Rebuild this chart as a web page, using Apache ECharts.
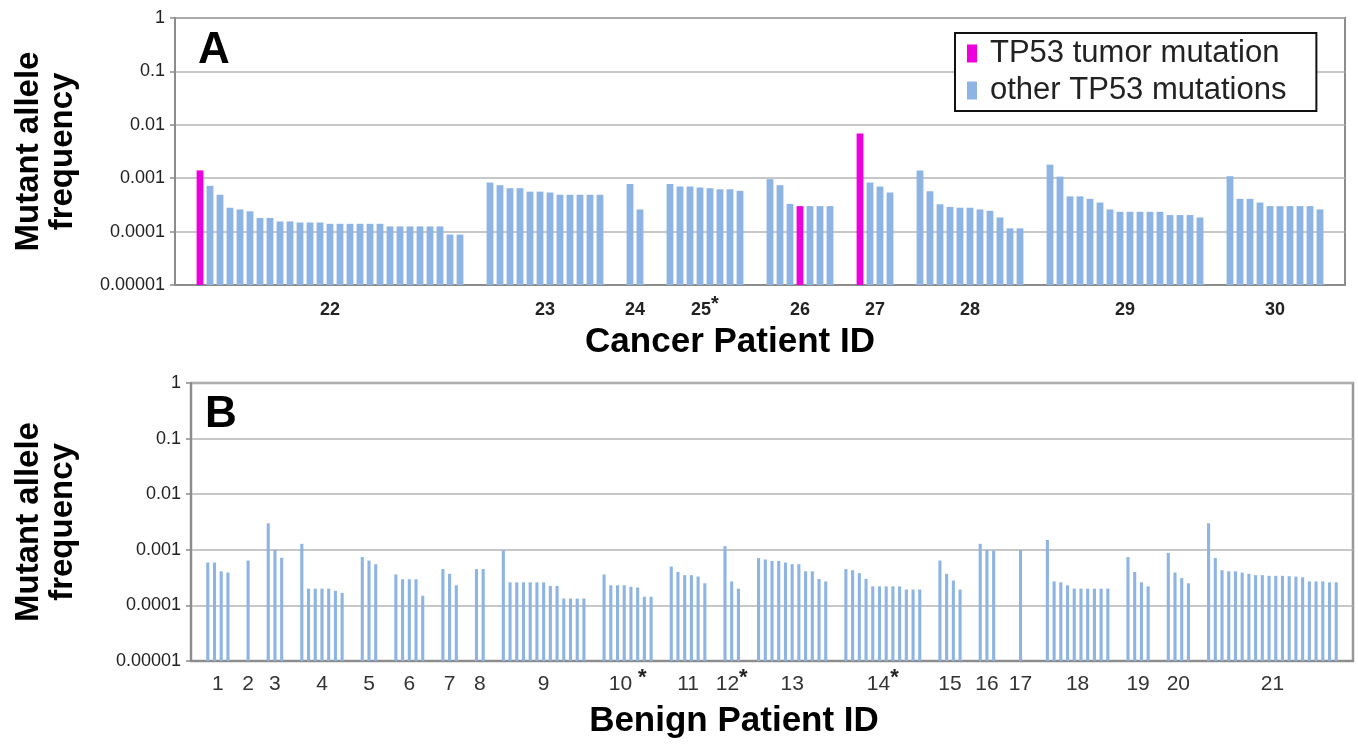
<!DOCTYPE html>
<html>
<head>
<meta charset="utf-8">
<script src="https://cdn.jsdelivr.net/npm/echarts@6/dist/echarts.min.js"></script>
<style>
  html, body { margin: 0; padding: 0; background: #fff; }
  #chart { width: 1358px; height: 745px; }
</style>
</head>
<body>
<div id="chart"></div>
<script>
// 纵轴刻度
const yTickLabels = ['0.00001', '0.0001', '0.001', '0.01', '0.1', '1'];
const Y_MIN = 0.00001;

// A: 癌症患者
const cancerIds = ['22', '23', '24', '25*', '26', '27', '28', '29', '30'];
const cancerValues = [
    [0.0014, 0.00072, 0.00049, 0.00028, 0.00026, 0.00024, 0.00018, 0.00018, 0.000155, 0.000155,
     0.000148, 0.000148, 0.000148, 0.00014, 0.00014, 0.00014, 0.00014, 0.00014, 0.00014,
     0.000125, 0.000125, 0.000125, 0.000125, 0.000125, 0.000125, 0.000088, 0.000088],
    [0.00083, 0.00074, 0.00065, 0.00065, 0.00056, 0.00056, 0.00054, 0.00049, 0.00049, 0.00049, 0.00049, 0.00049],
    [0.00078, 0.00026],
    [0.00078, 0.0007, 0.0007, 0.00067, 0.00065, 0.00062, 0.00062, 0.00058],
    [0.00096, 0.00074, 0.00033, 0.0003, 0.0003, 0.0003, 0.0003],
    [0.0069, 0.00083, 0.0007, 0.00054],
    [0.00139, 0.00057, 0.000325, 0.00029, 0.00028, 0.00028, 0.00026, 0.000245, 0.000184, 0.000115, 0.000115],
    [0.00179, 0.00107, 0.000457, 0.000457, 0.00041, 0.00035, 0.00026, 0.000235, 0.000235, 0.000235,
     0.000235, 0.000235, 0.000204, 0.000204, 0.000204, 0.000184],
    [0.00109, 0.00041, 0.00041, 0.00035, 0.0003, 0.0003, 0.0003, 0.0003, 0.0003, 0.00026]
];
// 肿瘤突变所在位置 (每组内序号, -1 为无)
const cancerTumorIndex = [0, -1, -1, -1, 3, 0, -1, -1, -1];
// 每组前面的空位数
const cancerGaps = [2, 2, 2, 2, 2, 2, 2, 2, 2];
const cancerTrailing = 2;

// B: 良性患者
const benignIds = ['1', '2', '3', '4', '5', '6', '7', '8', '9', '10 *', '11', '12*', '13', '14*',
    '15', '16', '17', '18', '19', '20', '21'];
const benignValues = [
    [0.00059, 0.00059, 0.00041, 0.00039],
    [0.00064],
    [0.003, 0.001, 0.00072],
    [0.00128, 0.0002, 0.0002, 0.0002, 0.0002, 0.000183, 0.000168],
    [0.00074, 0.00064, 0.00055],
    [0.00036, 0.000295, 0.000295, 0.000295, 0.000149],
    [0.00045, 0.00037, 0.00023],
    [0.00045, 0.00045],
    [0.00098, 0.00026, 0.00026, 0.00026, 0.00026, 0.00026, 0.00026, 0.000224, 0.000224,
     0.000133, 0.000133, 0.000133, 0.000133],
    [0.00036, 0.00023, 0.00023, 0.00023, 0.000216, 0.00021, 0.000143, 0.000143],
    [0.0005, 0.0004, 0.00035, 0.00035, 0.00033, 0.00025],
    [0.00116, 0.00027, 0.0002],
    [0.00071, 0.00067, 0.00063, 0.00063, 0.00059, 0.00055, 0.00055, 0.00041, 0.00041, 0.0003, 0.00027],
    [0.00045, 0.00043, 0.00038, 0.0003, 0.00022, 0.00022, 0.00022, 0.00022, 0.00022, 0.000193, 0.000193, 0.000193],
    [0.00064, 0.00037, 0.00028, 0.000193],
    [0.00128, 0.001, 0.00097],
    [0.001],
    [0.0015, 0.00027, 0.00026, 0.00023, 0.0002, 0.0002, 0.0002, 0.0002, 0.0002, 0.0002],
    [0.00074, 0.0004, 0.00026, 0.00022],
    [0.00088, 0.00039, 0.00031, 0.00025],
    [0.003, 0.00071, 0.00043, 0.00041, 0.00041, 0.00039, 0.00037, 0.00035, 0.00035, 0.00034,
     0.00034, 0.00034, 0.000335, 0.00033, 0.00032, 0.00027, 0.00027, 0.00027, 0.00026, 0.00026]
];
const benignGaps = [2, 2, 2, 2, 2, 2, 2, 2, 2, 2, 2, 2, 2, 2, 2, 2, 3, 3, 2, 2, 2];
const benignTrailing = 2;

const FONT = '"Liberation Sans", Arial, sans-serif';
const BLUE = '#8db4e2';
const MAGENTA = '#ee00dd';

// 把分组数据摊成一个个位置, 记录每组中心 (用于标签)
const layoutGroups = (ids, values, gaps, trailing, tumorIndex) => {
    const others = [];
    const tumors = [];
    const labelAt = {};
    let pos = 0;
    values.forEach((group, g) => {
        pos += gaps[g];
        const start = pos;
        group.forEach((v, i) => {
            if (tumorIndex && tumorIndex[g] === i) {
                tumors.push([pos, v]);
            } else {
                others.push([pos, v]);
            }
            pos++;
        });
        labelAt[(start + group.length / 2).toFixed(1)] = ids[g];
    });
    pos += trailing;
    return { others, tumors, labelAt, count: pos };
};

const A = layoutGroups(cancerIds, cancerValues, cancerGaps, cancerTrailing, cancerTumorIndex);
const B = layoutGroups(benignIds, benignValues, benignGaps, benignTrailing, null);

const starLabel = (s) => s.replace('*', '{s|*}');

// 对数轴上的柱子从最小值画起
const barItem = (count, ratio, color) => (params, api) => {
    const x = api.value(0);
    const top = api.coord([x, api.value(1)]);
    const base = api.coord([x, Y_MIN]);
    const w = params.coordSys.width / count * ratio;
    return {
        type: 'rect',
        shape: { x: top[0] - w / 2, y: top[1], width: w, height: base[1] - top[1] },
        style: { fill: color }
    };
};

const logAxis = (gridIndex, name, nameGap) => ({
    type: 'log',
    logBase: 10,
    gridIndex: gridIndex,
    min: Y_MIN,
    max: 1,
    name: name,
    nameLocation: 'middle',
    nameGap: nameGap,
    nameTextStyle: { fontFamily: FONT, fontSize: 33, fontWeight: 'bold', color: '#000', lineHeight: 34 },
    axisLine: { show: true, lineStyle: { color: '#8c8c8c', width: 2 } },
    axisTick: { show: true, length: 5, lineStyle: { color: '#8c8c8c', width: 1.5 } },
    axisLabel: {
        fontFamily: FONT,
        fontSize: 18,
        color: '#222',
        margin: 10,
        formatter: (v) => yTickLabels[Math.round(Math.log10(v)) + 5]
    },
    splitLine: { show: true, lineStyle: { color: '#b4b4b4', width: 1.5 } },
    minorTick: { show: false }
});

const categoryAxis = (gridIndex, count, name, nameGap, shift) => ({
    type: 'category',
    gridIndex: gridIndex,
    data: Array.from({ length: count }, (_, i) => String(i)),
    position: 'bottom',
    name: name,
    nameLocation: 'middle',
    nameGap: nameGap,
    nameTextStyle: { fontFamily: FONT, fontSize: 35, fontWeight: 'bold', color: '#000', padding: [0, shift, 0, 0] },
    axisLine: { show: true, lineStyle: { color: '#8c8c8c', width: 2 } },
    axisTick: { show: false },
    axisLabel: { show: false }
});

const labelAxis = (gridIndex, grp, style) => ({
    type: 'value',
    gridIndex: gridIndex,
    position: 'bottom',
    min: 0,
    max: grp.count,
    interval: 0.5,
    axisLine: { show: false },
    axisTick: { show: false },
    splitLine: { show: false },
    axisLabel: Object.assign({
        fontFamily: FONT,
        lineHeight: 30,
        formatter: (v) => {
            const t = grp.labelAt[v.toFixed(1)];
            return t ? starLabel(t) : '';
        }
    }, style)
});

const chart = echarts.init(document.getElementById('chart'), null, { renderer: 'canvas' });

chart.setOption({
    backgroundColor: '#fff',
    animation: false,
    textStyle: { fontFamily: FONT },
    grid: [
        { left: 175, top: 18, width: 1170, height: 267, show: true, borderColor: '#8c8c8c', borderWidth: 2 },
        { left: 191, top: 383, width: 1162, height: 278, show: true, borderColor: '#999', borderWidth: 2.5 }
    ],
    legend: {
        data: ['TP53 tumor mutation', 'other TP53 mutations'],
        orient: 'vertical',
        left: 955,
        top: 33,
        padding: [5, 30, 5, 12],
        itemGap: 6,
        itemWidth: 10,
        itemHeight: 18,
        icon: 'rect',
        borderColor: '#111',
        borderWidth: 2,
        backgroundColor: '#fff',
        textStyle: { fontFamily: FONT, fontSize: 31, lineHeight: 30, color: '#222', padding: [0, 0, 0, 8] }
    },
    graphic: [
        { type: 'text', left: 198, top: 29, z: 10, style: { text: 'A', font: 'bold 44px ' + FONT, fill: '#000' } },
        { type: 'text', left: 205, top: 393, z: 10, style: { text: 'B', font: 'bold 44px ' + FONT, fill: '#000' } }
    ],
    xAxis: [
        categoryAxis(0, A.count, 'Cancer Patient ID', 40, 60),
        labelAxis(0, A, {
            fontSize: 18, fontWeight: 'bold', color: '#222', margin: 10,
            rich: { s: { fontSize: 20, fontWeight: 'bold', color: '#222', lineHeight: 18, padding: [0, 0, 12, 0] } }
        }),
        categoryAxis(1, B.count, 'Benign Patient ID', 43, 76),
        labelAxis(1, B, {
            fontSize: 21, color: '#333', margin: 8,
            rich: { s: { fontSize: 22, fontWeight: 'bold', color: '#222', lineHeight: 18, padding: [0, 0, 12, 0] } }
        })
    ],
    yAxis: [
        logAxis(0, 'Mutant allele\nfrequency', 95),
        logAxis(1, 'Mutant allele\nfrequency', 111)
    ],
    series: [
        {
            name: 'TP53 tumor mutation',
            type: 'custom',
            xAxisIndex: 0,
            yAxisIndex: 0,
            data: A.tumors,
            encode: { x: 0, y: 1 },
            itemStyle: { color: MAGENTA },
            renderItem: barItem(A.count, 0.68, MAGENTA)
        },
        {
            name: 'other TP53 mutations',
            type: 'custom',
            xAxisIndex: 0,
            yAxisIndex: 0,
            data: A.others,
            encode: { x: 0, y: 1 },
            itemStyle: { color: BLUE },
            renderItem: barItem(A.count, 0.68, BLUE)
        },
        {
            name: 'benign',
            type: 'custom',
            xAxisIndex: 2,
            yAxisIndex: 1,
            data: B.others,
            encode: { x: 0, y: 1 },
            itemStyle: { color: BLUE },
            renderItem: barItem(B.count, 0.46, BLUE)
        }
    ]
});
</script>
</body>
</html>
